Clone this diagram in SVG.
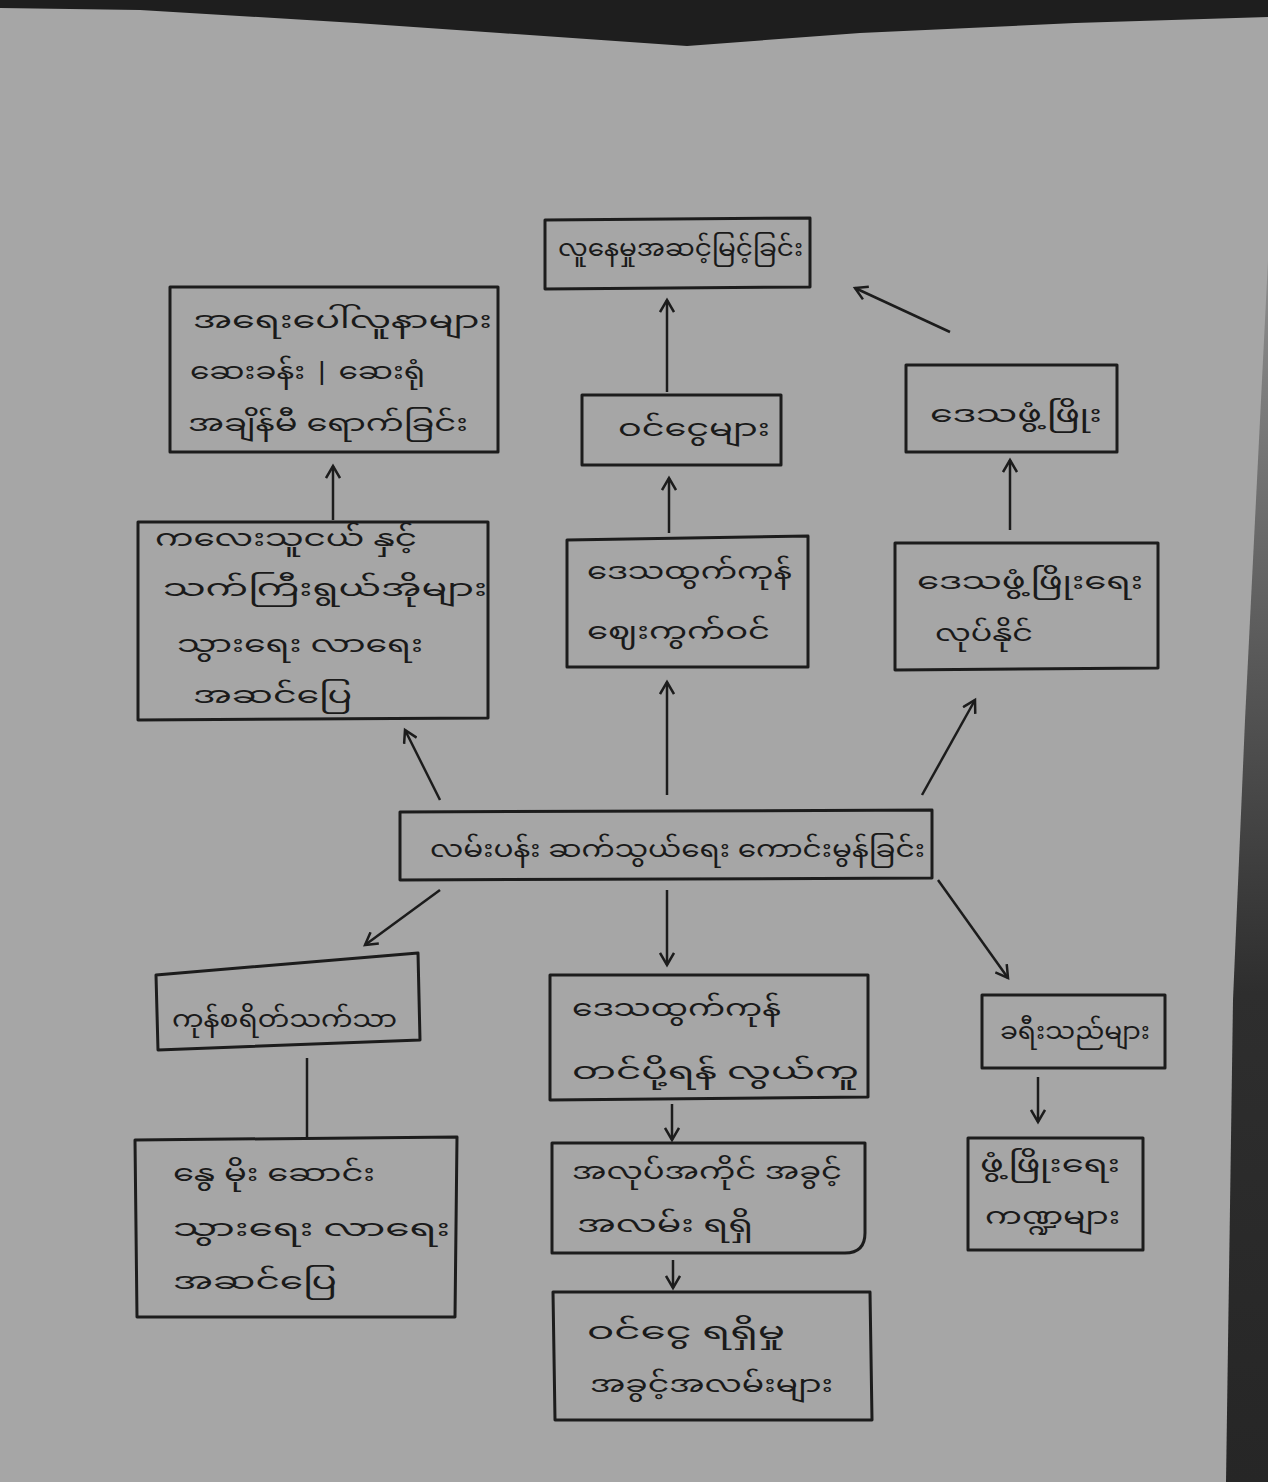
<svg xmlns="http://www.w3.org/2000/svg" width="1268" height="1482" viewBox="0 0 1268 1482">
<defs>
<marker id="ah" markerWidth="16" markerHeight="16" refX="13" refY="8" orient="auto" markerUnits="userSpaceOnUse">
<path d="M1,1 L13,8 L1,15" fill="none" stroke="#1c1c1c" stroke-width="2.5"/>
</marker>
<linearGradient id="edge" x1="0" y1="0" x2="0" y2="1">
<stop offset="0" stop-color="#8e8e8e"/>
<stop offset="0.35" stop-color="#555"/>
<stop offset="0.6" stop-color="#2e2e2e"/>
<stop offset="1" stop-color="#262626"/>
</linearGradient>
</defs>
<style>
.box{fill:none;stroke:#1c1c1c;stroke-width:3;stroke-linejoin:round}
.t{font-family:"Noto Sans Myanmar","Padauk","Myanmar Text","Noto Sans",sans-serif;font-size:24px;fill:#1a1a1a}
.c{stroke:#1c1c1c;stroke-width:2.5;fill:none}
</style>
<rect width="1268" height="1482" fill="#a6a6a6"/>
<path d="M0,0 L1268,0 L1268,17 L1075,23 L860,33 L687,46 L500,33 L356,23 L140,10 L0,8 Z" fill="#1e1e1e"/>
<path d="M1268,260 L1255,520 L1245,720 L1233,1000 L1226,1482 L1268,1482 Z" fill="url(#edge)"/>

<g id="n_top">
<polygon class="box" points="545,220 810,218 810,287 545,289"/>
<text class="t" x="558" y="256" textLength="245" lengthAdjust="spacingAndGlyphs">လူနေမှုအဆင့်မြင့်ခြင်း</text>
</g>
<g id="n_left_top">
<polygon class="box" points="170,287 498,287 498,452 170,452"/>
<text class="t" x="193" y="328" textLength="299" lengthAdjust="spacingAndGlyphs">အရေးပေါ်လူနာများ</text>
<text class="t" x="190" y="379" textLength="235" lengthAdjust="spacingAndGlyphs">ဆေးခန်း | ဆေးရုံ</text>
<text class="t" x="188" y="431" textLength="280" lengthAdjust="spacingAndGlyphs">အချိန်မီ ရောက်ခြင်း</text>
</g>
<g id="n_center_top">
<polygon class="box" points="582,395 781,395 781,465 582,465"/>
<text class="t" x="618" y="436" textLength="152" lengthAdjust="spacingAndGlyphs">ဝင်ငွေများ</text>
</g>
<g id="n_right_top">
<polygon class="box" points="906,365 1117,365 1117,452 906,452"/>
<text class="t" x="930" y="422" textLength="172" lengthAdjust="spacingAndGlyphs">ဒေသဖွံ့ဖြိုး</text>
</g>
<g id="n_left_mid">
<polygon class="box" points="138,522 488,522 488,718 138,720"/>
<text class="t" x="155" y="546" textLength="262" lengthAdjust="spacingAndGlyphs">ကလေးသူငယ် နှင့်</text>
<text class="t" x="163" y="596" textLength="324" lengthAdjust="spacingAndGlyphs">သက်ကြီးရွယ်အိုများ</text>
<text class="t" x="177" y="652" textLength="246" lengthAdjust="spacingAndGlyphs">သွားရေး လာရေး</text>
<text class="t" x="193" y="703" textLength="159" lengthAdjust="spacingAndGlyphs">အဆင်ပြေ</text>
</g>
<g id="n_center_mid">
<polygon class="box" points="567,540 808,536 808,667 567,667"/>
<text class="t" x="587" y="579" textLength="205" lengthAdjust="spacingAndGlyphs">ဒေသထွက်ကုန်</text>
<text class="t" x="587" y="639" textLength="183" lengthAdjust="spacingAndGlyphs">ဈေးကွက်ဝင်</text>
</g>
<g id="n_right_mid">
<polygon class="box" points="895,543 1158,543 1158,668 895,670"/>
<text class="t" x="917" y="589" textLength="226" lengthAdjust="spacingAndGlyphs">ဒေသဖွံ့ဖြိုးရေး</text>
<text class="t" x="935" y="641" textLength="98" lengthAdjust="spacingAndGlyphs">လုပ်နိုင်</text>
</g>
<g id="n_central">
<polygon class="box" points="400,812 932,810 932,878 400,880"/>
<text class="t" x="430" y="857" textLength="495" lengthAdjust="spacingAndGlyphs">လမ်းပန်း ဆက်သွယ်ရေး ကောင်းမွန်ခြင်း</text>
</g>
<g id="n_bottom_left_1">
<polygon class="box" points="156,975 418,953 420,1040 158,1050"/>
<text class="t" x="172" y="1027" textLength="225" lengthAdjust="spacingAndGlyphs">ကုန်စရိတ်သက်သာ</text>
</g>
<g id="n_bottom_left_2">
<polygon class="box" points="135,1140 457,1137 455,1317 137,1317"/>
<text class="t" x="173" y="1181" textLength="202" lengthAdjust="spacingAndGlyphs">နွေ မိုး ဆောင်း</text>
<text class="t" x="173" y="1236" textLength="277" lengthAdjust="spacingAndGlyphs">သွားရေး လာရေး</text>
<text class="t" x="173" y="1289" textLength="164" lengthAdjust="spacingAndGlyphs">အဆင်ပြေ</text>
</g>
<g id="n_center_1">
<polygon class="box" points="550,975 868,975 868,1097 550,1100"/>
<text class="t" x="572" y="1016" textLength="209" lengthAdjust="spacingAndGlyphs">ဒေသထွက်ကုန်</text>
<text class="t" x="572" y="1079" textLength="287" lengthAdjust="spacingAndGlyphs">တင်ပို့ရန် လွယ်ကူ</text>
</g>
<g id="n_center_2">
<path class="box" d="M552,1143 L865,1143 L865,1233 Q865,1253 845,1253 L552,1253 Z"/>
<text class="t" x="572" y="1179" textLength="270" lengthAdjust="spacingAndGlyphs">အလုပ်အကိုင် အခွင့်</text>
<text class="t" x="577" y="1232" textLength="176" lengthAdjust="spacingAndGlyphs">အလမ်း ရရှိ</text>
</g>
<g id="n_center_3">
<polygon class="box" points="553,1292 870,1292 872,1420 555,1420"/>
<text class="t" x="587" y="1339" textLength="198" lengthAdjust="spacingAndGlyphs">ဝင်ငွေ ရရှိမှု</text>
<text class="t" x="590" y="1392" textLength="243" lengthAdjust="spacingAndGlyphs">အခွင့်အလမ်းများ</text>
</g>
<g id="n_right_1">
<polygon class="box" points="982,995 1165,995 1165,1068 982,1068"/>
<text class="t" x="1000" y="1039" textLength="150" lengthAdjust="spacingAndGlyphs">ခရီးသည်များ</text>
</g>
<g id="n_right_2">
<polygon class="box" points="968,1138 1143,1138 1143,1250 968,1250"/>
<text class="t" x="980" y="1172" textLength="140" lengthAdjust="spacingAndGlyphs">ဖွံ့ဖြိုးရေး</text>
<text class="t" x="985" y="1224" textLength="135" lengthAdjust="spacingAndGlyphs">ကဏ္ဍများ</text>
</g>

<g id="connectors">
<line class="c" x1="667" y1="392" x2="667" y2="300" marker-end="url(#ah)"/>
<line class="c" x1="950" y1="332" x2="855" y2="288" marker-end="url(#ah)"/>
<line class="c" x1="333" y1="520" x2="333" y2="466" marker-end="url(#ah)"/>
<line class="c" x1="669" y1="533" x2="669" y2="478" marker-end="url(#ah)"/>
<line class="c" x1="1010" y1="530" x2="1010" y2="460" marker-end="url(#ah)"/>
<line class="c" x1="440" y1="800" x2="405" y2="730" marker-end="url(#ah)"/>
<line class="c" x1="667" y1="795" x2="667" y2="682" marker-end="url(#ah)"/>
<line class="c" x1="922" y1="795" x2="975" y2="700" marker-end="url(#ah)"/>
<line class="c" x1="440" y1="890" x2="365" y2="945" marker-end="url(#ah)"/>
<line class="c" x1="667" y1="890" x2="667" y2="965" marker-end="url(#ah)"/>
<line class="c" x1="938" y1="880" x2="1008" y2="978" marker-end="url(#ah)"/>
<line class="c" x1="307" y1="1058" x2="307" y2="1137"/>
<line class="c" x1="672" y1="1104" x2="672" y2="1140" marker-end="url(#ah)"/>
<line class="c" x1="673" y1="1260" x2="673" y2="1288" marker-end="url(#ah)"/>
<line class="c" x1="1038" y1="1077" x2="1038" y2="1122" marker-end="url(#ah)"/>
</g>
</svg>
